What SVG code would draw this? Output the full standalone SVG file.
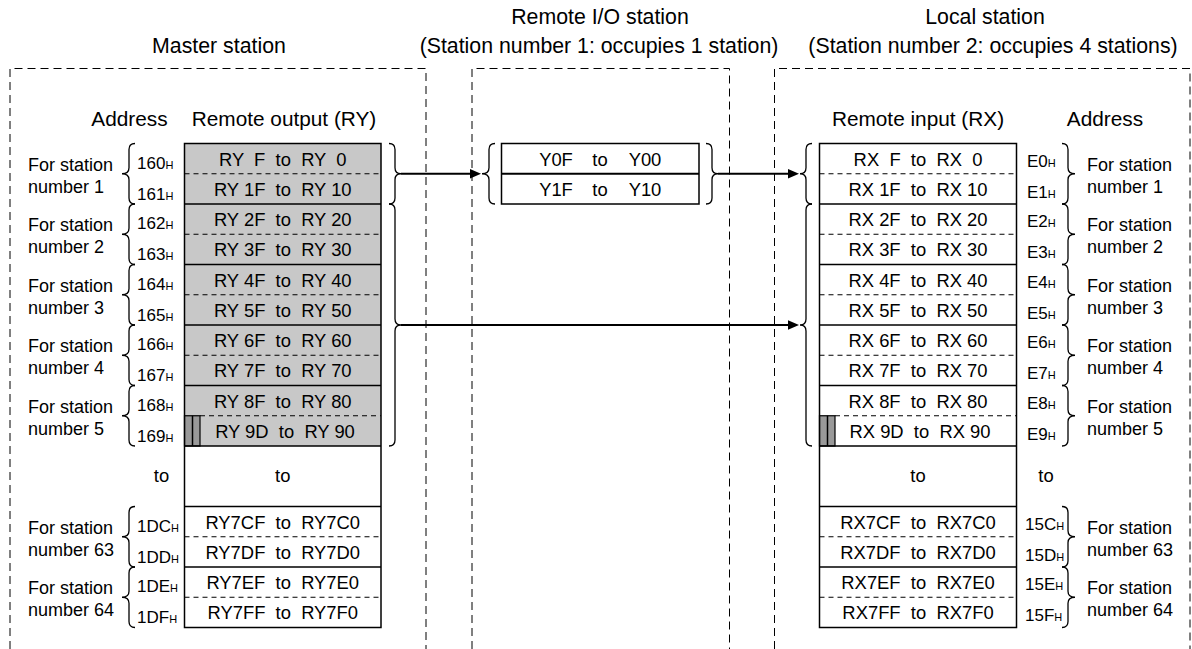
<svg xmlns="http://www.w3.org/2000/svg" width="1192" height="649" viewBox="0 0 1192 649">
<style>
text{font-family:"Liberation Sans",Arial,Helvetica,sans-serif;fill:#000;white-space:pre}
.h{font-size:21.3px;text-anchor:middle}
.ch{font-size:20.8px;text-anchor:middle}
.c{font-size:18.4px;text-anchor:middle}
.l{font-size:18px}
.ad{font-size:17px}
.sub{font-size:11px}
.box{fill:none;stroke:#000;stroke-width:1;stroke-dasharray:8 5}
.tbl{fill:none;stroke:#000;stroke-width:1.5}
.sol{stroke:#000;stroke-width:1.5}
.dsh{stroke:#000;stroke-width:1;stroke-dasharray:5 4}
.br{fill:none;stroke:#000;stroke-width:1.3}
.ar{stroke:#000;stroke-width:2;fill:none}
.gray{fill:#c8c8c8}
.dk{fill:#999;stroke:#000;stroke-width:1.2}
</style>

<g id="titles">
<text class="h" x="219" y="53">Master station</text>
<text class="h" x="600" y="24">Remote I/O station</text>
<text class="h" x="599" y="53">(Station number 1: occupies 1 station)</text>
<text class="h" x="985" y="24">Local station</text>
<text class="h" x="993" y="53">(Station number 2: occupies 4 stations)</text>
</g>

<g id="master-station">
<path class="box" d="M10 649 V68.5 H426 V649"/>
<text class="ch" x="129.5" y="126">Address</text>
<text class="ch" x="284" y="126">Remote output (RY)</text>
<rect class="gray" x="184.5" y="143.5" width="196.5" height="302.5"/>
<rect fill="#fff" x="184.5" y="446" width="196.5" height="181.5"/>
<rect class="dk" x="184.5" y="415.75" width="15.5" height="30.25"/>
<line class="sol" x1="192.5" y1="415.75" x2="192.5" y2="446"/>
<g class="dsh">
<line x1="184.5" y1="173.75" x2="381" y2="173.75"/>
<line x1="184.5" y1="234.25" x2="381" y2="234.25"/>
<line x1="184.5" y1="294.75" x2="381" y2="294.75"/>
<line x1="184.5" y1="355.25" x2="381" y2="355.25"/>
<line x1="200" y1="415.75" x2="381" y2="415.75"/>
<line x1="184.5" y1="536.75" x2="381" y2="536.75"/>
<line x1="184.5" y1="597.25" x2="381" y2="597.25"/>
</g>
<g class="sol">
<line x1="184.5" y1="204" x2="381" y2="204"/>
<line x1="184.5" y1="264.5" x2="381" y2="264.5"/>
<line x1="184.5" y1="325" x2="381" y2="325"/>
<line x1="184.5" y1="385.5" x2="381" y2="385.5"/>
<line x1="184.5" y1="446" x2="381" y2="446"/>
<line x1="184.5" y1="506.5" x2="381" y2="506.5"/>
<line x1="184.5" y1="567" x2="381" y2="567"/>
</g>
<rect class="tbl" x="184.5" y="143.5" width="196.5" height="484"/>
<g class="c">
<text x="282.75" y="165.5">RY  F  to  RY  0</text>
<text x="282.75" y="195.75">RY 1F  to  RY 10</text>
<text x="282.75" y="226">RY 2F  to  RY 20</text>
<text x="282.75" y="256.25">RY 3F  to  RY 30</text>
<text x="282.75" y="286.5">RY 4F  to  RY 40</text>
<text x="282.75" y="316.75">RY 5F  to  RY 50</text>
<text x="282.75" y="347">RY 6F  to  RY 60</text>
<text x="282.75" y="377.25">RY 7F  to  RY 70</text>
<text x="282.75" y="407.5">RY 8F  to  RY 80</text>
<text x="285" y="437.75">RY 9D  to  RY 90</text>
<text x="282.75" y="482">to</text>
<text x="282.75" y="528.5">RY7CF  to  RY7C0</text>
<text x="282.75" y="558.75">RY7DF  to  RY7D0</text>
<text x="282.75" y="589">RY7EF  to  RY7E0</text>
<text x="282.75" y="619.25">RY7FF  to  RY7F0</text>
<text x="161.5" y="482">to</text>
</g>
<g class="ad">
<text x="137" y="168.5">160<tspan class="sub">H</tspan></text>
<text x="137" y="199.75">161<tspan class="sub">H</tspan></text>
<text x="137" y="229">162<tspan class="sub">H</tspan></text>
<text x="137" y="260.25">163<tspan class="sub">H</tspan></text>
<text x="137" y="289.5">164<tspan class="sub">H</tspan></text>
<text x="137" y="320.75">165<tspan class="sub">H</tspan></text>
<text x="137" y="350">166<tspan class="sub">H</tspan></text>
<text x="137" y="381.25">167<tspan class="sub">H</tspan></text>
<text x="137" y="410.5">168<tspan class="sub">H</tspan></text>
<text x="137" y="441.75">169<tspan class="sub">H</tspan></text>
<text x="137" y="531.5">1DC<tspan class="sub">H</tspan></text>
<text x="137" y="562.75">1DD<tspan class="sub">H</tspan></text>
<text x="137" y="592">1DE<tspan class="sub">H</tspan></text>
<text x="137" y="623.25">1DF<tspan class="sub">H</tspan></text>
</g>
<g class="l">
<text x="28" y="170.75">For station</text><text x="28" y="192.75">number 1</text>
<text x="28" y="231.25">For station</text><text x="28" y="253.25">number 2</text>
<text x="28" y="291.75">For station</text><text x="28" y="313.75">number 3</text>
<text x="28" y="352.25">For station</text><text x="28" y="374.25">number 4</text>
<text x="28" y="412.75">For station</text><text x="28" y="434.75">number 5</text>
<text x="28" y="533.75">For station</text><text x="28" y="555.75">number 63</text>
<text x="28" y="594.25">For station</text><text x="28" y="616.25">number 64</text>
</g>
<g class="br">
<path d="M135 143.5 Q129 143.5 129 149.5 V167.75 Q129 173.75 122 173.75 Q129 173.75 129 179.75 V198 Q129 204 135 204"/>
<path d="M135 204 Q129 204 129 210 V228.25 Q129 234.25 122 234.25 Q129 234.25 129 240.25 V258.5 Q129 264.5 135 264.5"/>
<path d="M135 264.5 Q129 264.5 129 270.5 V288.75 Q129 294.75 122 294.75 Q129 294.75 129 300.75 V319 Q129 325 135 325"/>
<path d="M135 325 Q129 325 129 331 V349.25 Q129 355.25 122 355.25 Q129 355.25 129 361.25 V379.5 Q129 385.5 135 385.5"/>
<path d="M135 385.5 Q129 385.5 129 391.5 V409.75 Q129 415.75 122 415.75 Q129 415.75 129 421.75 V440 Q129 446 135 446"/>
<path d="M135 506.5 Q129 506.5 129 512.5 V530.75 Q129 536.75 122 536.75 Q129 536.75 129 542.75 V561 Q129 567 135 567"/>
<path d="M135 567 Q129 567 129 573 V591.25 Q129 597.25 122 597.25 Q129 597.25 129 603.25 V621.5 Q129 627.5 135 627.5"/>
<path d="M389 143.5 Q395 143.5 395 149.5 V167.75 Q395 173.75 401 173.75 Q395 173.75 395 179.75 V198 Q395 204 389 204"/>
<path d="M389 204 Q395 204 395 210 V319 Q395 325 401 325 Q395 325 395 331 V440 Q395 446 389 446"/>
</g>
</g>

<g id="remote-io-station">
<path class="box" d="M472 649 V68.5 H729.5 V649"/>
<rect fill="#fff" x="501.5" y="143.5" width="197.5" height="60.5"/>
<line class="sol" x1="501.5" y1="173.75" x2="699" y2="173.75" style="stroke-width:2"/>
<rect class="tbl" x="501.5" y="143.5" width="197.5" height="60.5"/>
<g class="c">
<text x="556" y="165.5">Y0F</text><text x="600" y="165.5">to</text><text x="645" y="165.5">Y00</text>
<text x="556" y="195.75">Y1F</text><text x="600" y="195.75">to</text><text x="645" y="195.75">Y10</text>
</g>
<g class="br">
<path d="M495 143.5 Q489 143.5 489 149.5 V167.75 Q489 173.75 482 173.75 Q489 173.75 489 179.75 V198 Q489 204 495 204"/>
<path d="M706 143.5 Q712 143.5 712 149.5 V167.75 Q712 173.75 718 173.75 Q712 173.75 712 179.75 V198 Q712 204 706 204"/>
</g>
</g>

<g id="local-station">
<path class="box" d="M774.5 649 V68.5 H1190 V649"/>
<text class="ch" x="918" y="126">Remote input (RX)</text>
<text class="ch" x="1105" y="126">Address</text>
<rect fill="#fff" x="819.5" y="143.5" width="197" height="484"/>
<rect class="dk" x="819.5" y="415.75" width="15.5" height="30.25"/>
<line class="sol" x1="827.5" y1="415.75" x2="827.5" y2="446"/>
<g class="dsh">
<line x1="819.5" y1="173.75" x2="1016.5" y2="173.75"/>
<line x1="819.5" y1="234.25" x2="1016.5" y2="234.25"/>
<line x1="819.5" y1="294.75" x2="1016.5" y2="294.75"/>
<line x1="819.5" y1="355.25" x2="1016.5" y2="355.25"/>
<line x1="835" y1="415.75" x2="1016.5" y2="415.75"/>
<line x1="819.5" y1="536.75" x2="1016.5" y2="536.75"/>
<line x1="819.5" y1="597.25" x2="1016.5" y2="597.25"/>
</g>
<g class="sol">
<line x1="819.5" y1="204" x2="1016.5" y2="204"/>
<line x1="819.5" y1="264.5" x2="1016.5" y2="264.5"/>
<line x1="819.5" y1="325" x2="1016.5" y2="325"/>
<line x1="819.5" y1="385.5" x2="1016.5" y2="385.5"/>
<line x1="819.5" y1="446" x2="1016.5" y2="446"/>
<line x1="819.5" y1="506.5" x2="1016.5" y2="506.5"/>
<line x1="819.5" y1="567" x2="1016.5" y2="567"/>
</g>
<rect class="tbl" x="819.5" y="143.5" width="197" height="484"/>
<g class="c">
<text x="918" y="165.5">RX  F  to  RX  0</text>
<text x="918" y="195.75">RX 1F  to  RX 10</text>
<text x="918" y="226">RX 2F  to  RX 20</text>
<text x="918" y="256.25">RX 3F  to  RX 30</text>
<text x="918" y="286.5">RX 4F  to  RX 40</text>
<text x="918" y="316.75">RX 5F  to  RX 50</text>
<text x="918" y="347">RX 6F  to  RX 60</text>
<text x="918" y="377.25">RX 7F  to  RX 70</text>
<text x="918" y="407.5">RX 8F  to  RX 80</text>
<text x="920" y="437.75">RX 9D  to  RX 90</text>
<text x="918" y="482">to</text>
<text x="918" y="528.5">RX7CF  to  RX7C0</text>
<text x="918" y="558.75">RX7DF  to  RX7D0</text>
<text x="918" y="589">RX7EF  to  RX7E0</text>
<text x="918" y="619.25">RX7FF  to  RX7F0</text>
<text x="1046" y="482">to</text>
</g>
<g class="ad">
<text x="1027" y="166.5">E0<tspan class="sub">H</tspan></text>
<text x="1027" y="197.75">E1<tspan class="sub">H</tspan></text>
<text x="1027" y="227">E2<tspan class="sub">H</tspan></text>
<text x="1027" y="258.25">E3<tspan class="sub">H</tspan></text>
<text x="1027" y="287.5">E4<tspan class="sub">H</tspan></text>
<text x="1027" y="318.75">E5<tspan class="sub">H</tspan></text>
<text x="1027" y="348">E6<tspan class="sub">H</tspan></text>
<text x="1027" y="379.25">E7<tspan class="sub">H</tspan></text>
<text x="1027" y="408.5">E8<tspan class="sub">H</tspan></text>
<text x="1027" y="439.75">E9<tspan class="sub">H</tspan></text>
<text x="1025" y="529.5">15C<tspan class="sub">H</tspan></text>
<text x="1025" y="560.75">15D<tspan class="sub">H</tspan></text>
<text x="1025" y="590">15E<tspan class="sub">H</tspan></text>
<text x="1025" y="621.25">15F<tspan class="sub">H</tspan></text>
</g>
<g class="l">
<text x="1087" y="170.75">For station</text><text x="1087" y="192.75">number 1</text>
<text x="1087" y="231.25">For station</text><text x="1087" y="253.25">number 2</text>
<text x="1087" y="291.75">For station</text><text x="1087" y="313.75">number 3</text>
<text x="1087" y="352.25">For station</text><text x="1087" y="374.25">number 4</text>
<text x="1087" y="412.75">For station</text><text x="1087" y="434.75">number 5</text>
<text x="1087" y="533.75">For station</text><text x="1087" y="555.75">number 63</text>
<text x="1087" y="594.25">For station</text><text x="1087" y="616.25">number 64</text>
</g>
<g class="br">
<path d="M812 143.5 Q806 143.5 806 149.5 V167.75 Q806 173.75 800 173.75 Q806 173.75 806 179.75 V198 Q806 204 812 204"/>
<path d="M812 204 Q806 204 806 210 V319 Q806 325 800 325 Q806 325 806 331 V440 Q806 446 812 446"/>
<path d="M1062 143.5 Q1068 143.5 1068 149.5 V167.75 Q1068 173.75 1075 173.75 Q1068 173.75 1068 179.75 V198 Q1068 204 1062 204"/>
<path d="M1062 204 Q1068 204 1068 210 V228.25 Q1068 234.25 1075 234.25 Q1068 234.25 1068 240.25 V258.5 Q1068 264.5 1062 264.5"/>
<path d="M1062 264.5 Q1068 264.5 1068 270.5 V288.75 Q1068 294.75 1075 294.75 Q1068 294.75 1068 300.75 V319 Q1068 325 1062 325"/>
<path d="M1062 325 Q1068 325 1068 331 V349.25 Q1068 355.25 1075 355.25 Q1068 355.25 1068 361.25 V379.5 Q1068 385.5 1062 385.5"/>
<path d="M1062 385.5 Q1068 385.5 1068 391.5 V409.75 Q1068 415.75 1075 415.75 Q1068 415.75 1068 421.75 V440 Q1068 446 1062 446"/>
<path d="M1062 506.5 Q1068 506.5 1068 512.5 V530.75 Q1068 536.75 1075 536.75 Q1068 536.75 1068 542.75 V561 Q1068 567 1062 567"/>
<path d="M1062 567 Q1068 567 1068 573 V591.25 Q1068 597.25 1075 597.25 Q1068 597.25 1068 603.25 V621.5 Q1068 627.5 1062 627.5"/>
</g>
</g>

<g id="connectors">
<line class="ar" x1="401" y1="173.75" x2="472" y2="173.75"/>
<polygon points="481,173.75 470,169 470,178.5"/>
<line class="ar" x1="718" y1="173.75" x2="790" y2="173.75"/>
<polygon points="799,173.75 788,169 788,178.5"/>
<line class="ar" x1="401" y1="325" x2="790" y2="325"/>
<polygon points="799,325 788,320.25 788,329.75"/>
</g>
</svg>
